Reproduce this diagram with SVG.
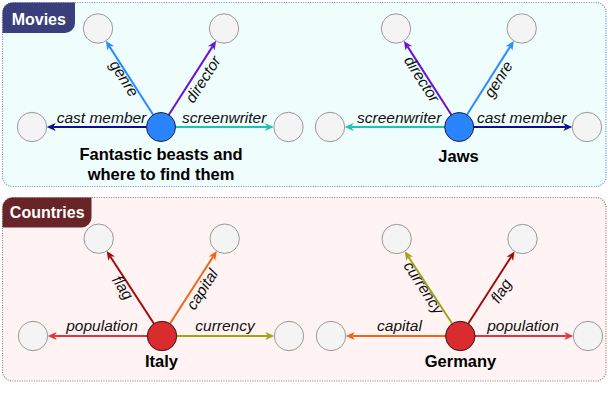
<svg xmlns="http://www.w3.org/2000/svg" width="608" height="416" viewBox="0 0 608 416">
<style>
.panel{stroke-width:1.2;stroke-dasharray:1.2 1.2}
.tabtxt{font-family:"Liberation Sans",Arial,sans-serif;font-weight:bold;font-size:16px;fill:#ffffff;text-anchor:middle}
.leaf{fill:#f4f4f4;stroke:#999999;stroke-width:1}
.hubB{fill:#2a84ff;stroke:#1e2040;stroke-width:1}
.hubR{fill:#da2b2f;stroke:#3a1414;stroke-width:1}
.name{font-family:"Liberation Sans",Arial,sans-serif;font-weight:bold;font-size:16.5px;fill:#000000;text-anchor:middle}
.lbl{font-family:"Liberation Sans",Arial,sans-serif;font-style:italic;font-size:15.5px;fill:#111111;text-anchor:middle}
.e{fill:none;stroke-width:2}
.navy{stroke:#0d0d96}.teal{stroke:#22c2b2}.blue{stroke:#2a8cff}.purple{stroke:#6e12d6}
.red{stroke:#e0363c}.olive{stroke:#a3a314}.orange{stroke:#f26418}.dred{stroke:#a00c0c}
</style>
<defs>
<marker id="aNavy" markerUnits="userSpaceOnUse" markerWidth="10" markerHeight="9" refX="2.5" refY="4" orient="auto" viewBox="0 0 10 8" overflow="visible"><path d="M0,0 L9,4 L0,8 L2.5,4 Z" fill="#0d0d96"/></marker>
<marker id="aTeal" markerUnits="userSpaceOnUse" markerWidth="10" markerHeight="9" refX="2.5" refY="4" orient="auto" viewBox="0 0 10 8" overflow="visible"><path d="M0,0 L9,4 L0,8 L2.5,4 Z" fill="#22c2b2"/></marker>
<marker id="aBlue" markerUnits="userSpaceOnUse" markerWidth="10" markerHeight="9" refX="2.5" refY="4" orient="auto" viewBox="0 0 10 8" overflow="visible"><path d="M0,0 L9,4 L0,8 L2.5,4 Z" fill="#2a8cff"/></marker>
<marker id="aPurple" markerUnits="userSpaceOnUse" markerWidth="10" markerHeight="9" refX="2.5" refY="4" orient="auto" viewBox="0 0 10 8" overflow="visible"><path d="M0,0 L9,4 L0,8 L2.5,4 Z" fill="#6e12d6"/></marker>
<marker id="aRed" markerUnits="userSpaceOnUse" markerWidth="10" markerHeight="9" refX="2.5" refY="4" orient="auto" viewBox="0 0 10 8" overflow="visible"><path d="M0,0 L9,4 L0,8 L2.5,4 Z" fill="#e0363c"/></marker>
<marker id="aOlive" markerUnits="userSpaceOnUse" markerWidth="10" markerHeight="9" refX="2.5" refY="4" orient="auto" viewBox="0 0 10 8" overflow="visible"><path d="M0,0 L9,4 L0,8 L2.5,4 Z" fill="#a3a314"/></marker>
<marker id="aOrange" markerUnits="userSpaceOnUse" markerWidth="10" markerHeight="9" refX="2.5" refY="4" orient="auto" viewBox="0 0 10 8" overflow="visible"><path d="M0,0 L9,4 L0,8 L2.5,4 Z" fill="#f26418"/></marker>
<marker id="aDred" markerUnits="userSpaceOnUse" markerWidth="10" markerHeight="9" refX="2.5" refY="4" orient="auto" viewBox="0 0 10 8" overflow="visible"><path d="M0,0 L9,4 L0,8 L2.5,4 Z" fill="#a00c0c"/></marker>
</defs>
<rect width="608" height="416" fill="#ffffff"/>
<g id="panel-movies">
<rect class="panel" x="2.5" y="2.5" width="603.5" height="184" rx="10" fill="#effdfd" stroke="#7f9fd6"/>
<path d="M2.5,33 L2.5,12.5 A10,10 0 0 1 12.5,2.5 L75,2.5 L75,23 A10,10 0 0 1 65,33 Z" fill="#3a3f7c"/>
<text class="tabtxt" x="38.8" y="25">Movies</text>
</g>
<g id="panel-countries">
<rect class="panel" x="2.5" y="197.5" width="603.5" height="183.5" rx="10" fill="#fff4f3" stroke="#b08a8a"/>
<path d="M2.5,227.5 L2.5,207.5 A10,10 0 0 1 12.5,197.5 L91.5,197.5 L91.5,217.5 A10,10 0 0 1 81.5,227.5 Z" fill="#692427"/>
<text class="tabtxt" x="47.2" y="217.5">Countries</text>
</g>
<g id="connectors">
<line class="e navy" x1="161" y1="127" x2="53.2" y2="127" marker-end="url(#aNavy)"/>
<line class="e teal" x1="161" y1="127" x2="267.3" y2="127" marker-end="url(#aTeal)"/>
<line class="e blue" x1="161" y1="127" x2="109.4" y2="46.35" marker-end="url(#aBlue)"/>
<line class="e purple" x1="161" y1="127" x2="212.6" y2="46.35" marker-end="url(#aPurple)"/>
<line class="e teal" x1="459.2" y1="127" x2="351.2" y2="127" marker-end="url(#aTeal)"/>
<line class="e navy" x1="459.2" y1="127" x2="565.8" y2="127" marker-end="url(#aNavy)"/>
<line class="e purple" x1="459.2" y1="127" x2="407.45" y2="46.35" marker-end="url(#aPurple)"/>
<line class="e blue" x1="459.2" y1="127" x2="510.34" y2="46.4" marker-end="url(#aBlue)"/>
<line class="e red" x1="162" y1="336" x2="54.2" y2="336" marker-end="url(#aRed)"/>
<line class="e olive" x1="162" y1="336" x2="267.8" y2="336" marker-end="url(#aOlive)"/>
<line class="e dred" x1="162" y1="336" x2="110.26" y2="256.47" marker-end="url(#aDred)"/>
<line class="e orange" x1="162" y1="336" x2="213.22" y2="256.52" marker-end="url(#aOrange)"/>
<line class="e orange" x1="460.3" y1="336" x2="352.2" y2="336" marker-end="url(#aOrange)"/>
<line class="e red" x1="460.3" y1="336" x2="566.8" y2="336" marker-end="url(#aRed)"/>
<line class="e olive" x1="460.3" y1="336" x2="408.32" y2="256.73" marker-end="url(#aOlive)"/>
<line class="e dred" x1="460.3" y1="336" x2="511.06" y2="256.85" marker-end="url(#aDred)"/>
<text class="lbl" x="101.5" y="122.5">cast member</text>
<text class="lbl" x="224.2" y="122.5">screenwriter</text>
<text class="lbl" transform="translate(121.7,80) rotate(57.4)" y="2.4">genre</text>
<text class="lbl" transform="translate(202.8,79.2) rotate(-57.4)" y="5.5">director</text>
<text class="lbl" x="399.2" y="122.5">screenwriter</text>
<text class="lbl" x="521.7" y="122.5">cast member</text>
<text class="lbl" transform="translate(422,79) rotate(57.3)" y="5.5">director</text>
<text class="lbl" transform="translate(500.8,80.8) rotate(-57.6)" y="2.4">genre</text>
<text class="lbl" x="102" y="331">population</text>
<text class="lbl" x="225" y="331">currency</text>
<text class="lbl" transform="translate(121.7,288.3) rotate(56.9)" y="3.9">flag</text>
<text class="lbl" transform="translate(203.3,290) rotate(-57.2)" y="3.9">capital</text>
<text class="lbl" x="399.5" y="331">capital</text>
<text class="lbl" x="523" y="331">population</text>
<text class="lbl" transform="translate(421.3,289.2) rotate(56.7)" y="2.4">currency</text>
<text class="lbl" transform="translate(502.2,291.7) rotate(-57.3)" y="3.9">flag</text>
</g>
<g id="node-fantastic-beasts">
<circle class="hubB" cx="161" cy="127" r="14.5"/>
<text class="name" x="161" y="159.5">Fantastic beasts and</text>
<text class="name" x="161" y="179.5">where to find them</text>
</g>
<g id="node-fb-genre"><circle class="leaf" cx="98" cy="28.5" r="14.7"/></g>
<g id="node-fb-director"><circle class="leaf" cx="224" cy="28.5" r="14.7"/></g>
<g id="node-fb-cast"><circle class="leaf" cx="32" cy="127" r="14.7"/></g>
<g id="node-fb-screenwriter"><circle class="leaf" cx="288.5" cy="127" r="14.7"/></g>
<g id="node-jaws">
<circle class="hubB" cx="459.2" cy="127" r="14.5"/>
<text class="name" x="458.5" y="162">Jaws</text>
</g>
<g id="node-jaws-director"><circle class="leaf" cx="396" cy="28.5" r="14.7"/></g>
<g id="node-jaws-genre"><circle class="leaf" cx="521.7" cy="28.5" r="14.7"/></g>
<g id="node-jaws-screenwriter"><circle class="leaf" cx="330" cy="127" r="14.7"/></g>
<g id="node-jaws-cast"><circle class="leaf" cx="587" cy="127" r="14.7"/></g>
<g id="node-italy">
<circle class="hubR" cx="162" cy="336" r="14.7"/>
<text class="name" x="161.5" y="366.5">Italy</text>
</g>
<g id="node-italy-flag"><circle class="leaf" cx="98.7" cy="238.7" r="14.7"/></g>
<g id="node-italy-capital"><circle class="leaf" cx="224.7" cy="238.7" r="14.7"/></g>
<g id="node-italy-population"><circle class="leaf" cx="33" cy="336" r="14.7"/></g>
<g id="node-italy-currency"><circle class="leaf" cx="289" cy="336" r="14.7"/></g>
<g id="node-germany">
<circle class="hubR" cx="460.3" cy="336" r="14.7"/>
<text class="name" x="460.5" y="366.5">Germany</text>
</g>
<g id="node-germany-currency"><circle class="leaf" cx="396.7" cy="239" r="14.7"/></g>
<g id="node-germany-flag"><circle class="leaf" cx="522.5" cy="239" r="14.7"/></g>
<g id="node-germany-capital"><circle class="leaf" cx="331" cy="336" r="14.7"/></g>
<g id="node-germany-population"><circle class="leaf" cx="588" cy="336" r="14.7"/></g>
</svg>
